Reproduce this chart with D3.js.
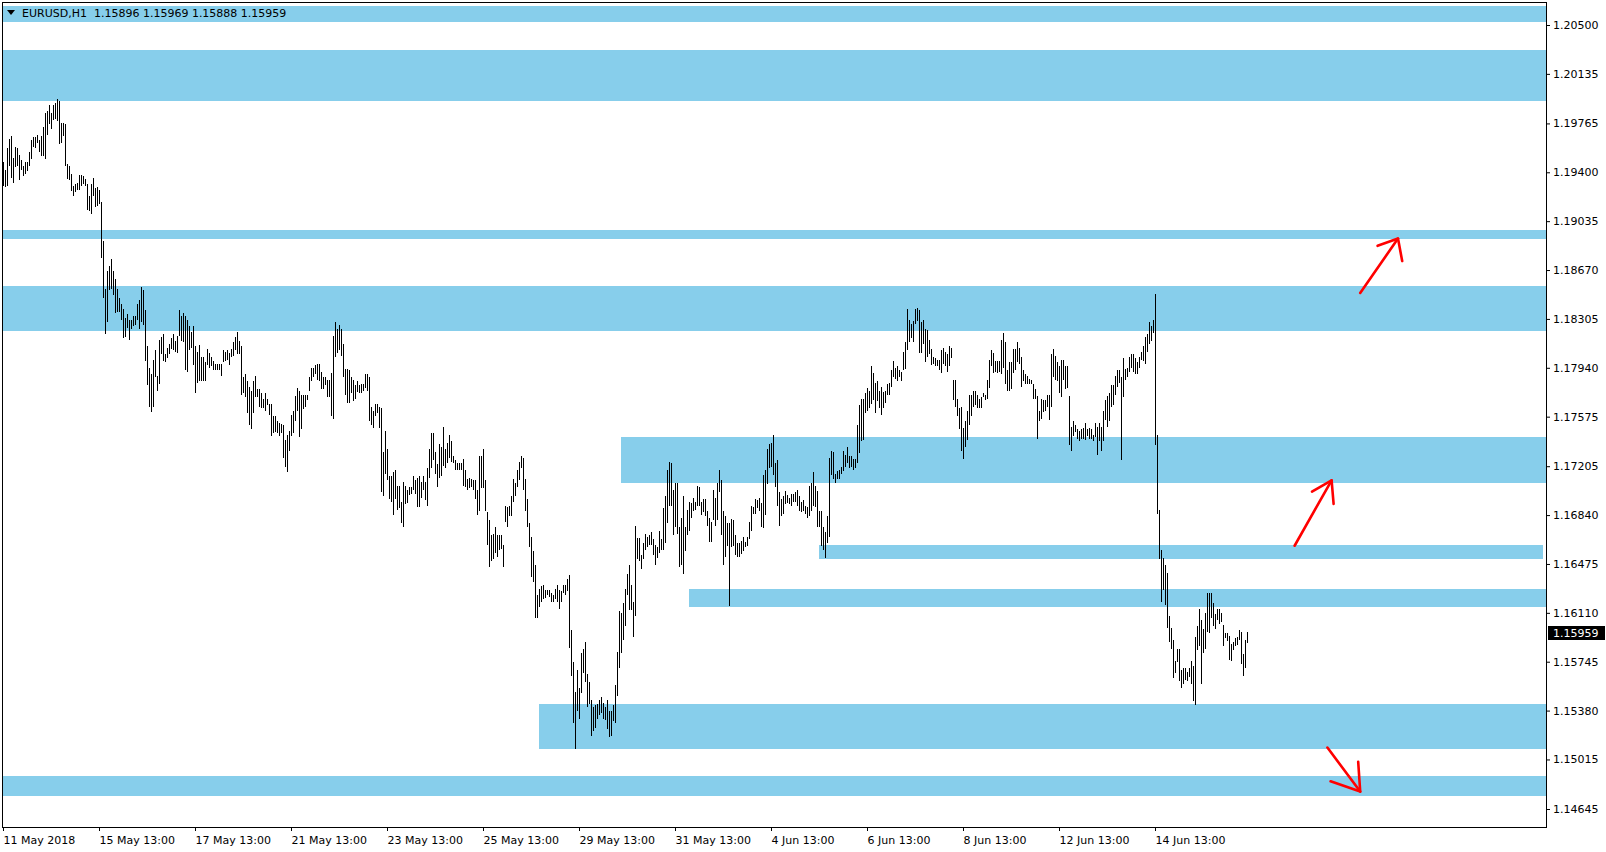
<!DOCTYPE html>
<html><head><meta charset="utf-8">
<script src="https://cdn.jsdelivr.net/npm/d3@7"></script>
<style>html,body{margin:0;padding:0;background:#fff;}svg{display:block;}</style>
</head><body>
<svg id="chart" width="1606" height="852"></svg>
<script>
const symbolName = "EURUSD,H1";
const lastBarOHLC = [1.15896, 1.15969, 1.15888, 1.15959];

// H1 bars (high / low), oldest first, starting 11 May 2018 13:00
const highs = [
1.1948,1.1942,1.1958,1.1965,1.1967,1.1951,1.1959,1.1958,1.1953,1.1949,1.1945,1.1948,1.1948,1.1955,1.1964,1.1966,1.1966,1.1968,1.1964,1.1967,1.1974,1.1984,1.1986,1.1990,
1.1984,1.1990,1.1992,1.1995,1.1993,1.1977,1.1977,1.1976,1.1946,1.1945,1.1939,1.1930,1.1931,1.1932,1.1938,1.1938,1.1937,1.1935,1.1931,1.1922,1.1931,1.1936,1.1928,1.1929,
1.1927,1.1918,1.1889,1.1853,1.1866,1.1870,1.1875,1.1866,1.1860,1.1853,1.1846,1.1842,1.1838,1.1831,1.1834,1.1830,1.1830,1.1833,1.1833,1.1842,1.1845,1.1854,1.1852,1.1837,
1.1810,1.1794,1.1789,1.1800,1.1807,1.1788,1.1815,1.1817,1.1819,1.1804,1.1809,1.1812,1.1816,1.1819,1.1814,1.1818,1.1837,1.1833,1.1835,1.1833,1.1830,1.1825,1.1821,1.1825,
1.1810,1.1806,1.1811,1.1802,1.1802,1.1798,1.1808,1.1805,1.1802,1.1799,1.1797,1.1797,1.1797,1.1797,1.1807,1.1806,1.1807,1.1805,1.1808,1.1813,1.1817,1.1821,1.1814,1.1810,
1.1787,1.1789,1.1784,1.1780,1.1777,1.1784,1.1788,1.1778,1.1778,1.1775,1.1771,1.1775,1.1771,1.1767,1.1767,1.1758,1.1758,1.1754,1.1753,1.1752,1.1751,1.1740,1.1744,1.1747,
1.1759,1.1762,1.1773,1.1779,1.1777,1.1774,1.1774,1.1774,1.1774,1.1787,1.1794,1.1794,1.1796,1.1797,1.1797,1.1791,1.1787,1.1787,1.1785,1.1785,1.1790,1.1818,1.1828,1.1823,
1.1826,1.1823,1.1812,1.1793,1.1793,1.1792,1.1787,1.1785,1.1781,1.1784,1.1781,1.1782,1.1782,1.1789,1.1789,1.1787,1.1765,1.1762,1.1767,1.1767,1.1765,1.1764,1.1731,1.1747,
1.1733,1.1713,1.1713,1.1716,1.1718,1.1706,1.1706,1.1694,1.1709,1.1706,1.1703,1.1705,1.1705,1.1713,1.1710,1.1712,1.1713,1.1709,1.1713,1.1709,1.1719,1.1733,1.1745,1.1745,
1.1731,1.1722,1.1737,1.1735,1.1750,1.1733,1.1738,1.1744,1.1739,1.1728,1.1725,1.1723,1.1723,1.1723,1.1726,1.1718,1.1711,1.1712,1.1711,1.1710,1.1710,1.1703,1.1728,1.1728,
1.1733,1.1710,1.1686,1.1680,1.1669,1.1670,1.1675,1.1669,1.1669,1.1669,1.1662,1.1691,1.1690,1.1691,1.1698,1.1711,1.1708,1.1718,1.1724,1.1728,1.1727,1.1711,1.1696,1.1678,
1.1668,1.1657,1.1647,1.1624,1.1629,1.1631,1.1632,1.1628,1.1628,1.1628,1.1626,1.1624,1.1629,1.1632,1.1628,1.1627,1.1632,1.1632,1.1636,1.1639,1.1598,1.1574,1.1552,1.1568,
1.1555,1.1581,1.1584,1.1589,1.1565,1.1559,1.1546,1.1541,1.1542,1.1543,1.1546,1.1548,1.1544,1.1541,1.1546,1.1538,1.1538,1.1542,1.1557,1.1582,1.1612,1.1611,1.1618,1.1629,
1.1640,1.1647,1.1632,1.1619,1.1676,1.1667,1.1667,1.1654,1.1663,1.1670,1.1668,1.1669,1.1671,1.1666,1.1662,1.1660,1.1672,1.1666,1.1689,1.1698,1.1718,1.1724,1.1723,1.1703,
1.1708,1.1708,1.1675,1.1682,1.1698,1.1675,1.1688,1.1694,1.1693,1.1697,1.1694,1.1706,1.1705,1.1694,1.1696,1.1696,1.1687,1.1682,1.1679,1.1703,1.1697,1.1708,1.1718,1.1710,
1.1687,1.1683,1.1678,1.1678,1.1681,1.1680,1.1669,1.1663,1.1663,1.1665,1.1668,1.1664,1.1668,1.1679,1.1691,1.1690,1.1696,1.1695,1.1697,1.1693,1.1714,1.1718,1.1733,1.1737,
1.1738,1.1744,1.1723,1.1725,1.1701,1.1696,1.1698,1.1702,1.1699,1.1697,1.1700,1.1700,1.1701,1.1703,1.1698,1.1694,1.1695,1.1691,1.1690,1.1706,1.1708,1.1716,1.1706,1.1702,
1.1687,1.1687,1.1675,1.1671,1.1683,1.1727,1.1732,1.1731,1.1715,1.1717,1.1718,1.1720,1.1732,1.1729,1.1735,1.1728,1.1728,1.1726,1.1726,1.1751,1.1766,1.1771,1.1771,1.1775,
1.1779,1.1777,1.1795,1.1790,1.1783,1.1784,1.1777,1.1780,1.1776,1.1777,1.1782,1.1783,1.1792,1.1799,1.1794,1.1795,1.1792,1.1791,1.1806,1.1813,1.1838,1.1830,1.1827,1.1829,
1.1838,1.1839,1.1837,1.1828,1.1830,1.1823,1.1822,1.1815,1.1808,1.1802,1.1801,1.1800,1.1800,1.1807,1.1809,1.1806,1.1804,1.1810,1.1809,1.1785,1.1785,1.1771,1.1764,1.1765,
1.1749,1.1754,1.1762,1.1774,1.1774,1.1777,1.1777,1.1774,1.1771,1.1772,1.1775,1.1774,1.1785,1.1800,1.1807,1.1805,1.1799,1.1799,1.1799,1.1815,1.1820,1.1813,1.1792,1.1798,
1.1798,1.1808,1.1808,1.1813,1.1809,1.1802,1.1792,1.1789,1.1788,1.1786,1.1785,1.1782,1.1778,1.1773,1.1762,1.1771,1.1770,1.1770,1.1774,1.1774,1.1804,1.1808,1.1803,1.1798,
1.1795,1.1800,1.1800,1.1795,1.1795,1.1773,1.1750,1.1754,1.1751,1.1748,1.1747,1.1748,1.1749,1.1753,1.1748,1.1749,1.1748,1.1744,1.1753,1.1750,1.1753,1.1750,1.1762,1.1770,
1.1773,1.1775,1.1781,1.1781,1.1788,1.1792,1.1792,1.1787,1.1801,1.1793,1.1794,1.1802,1.1804,1.1804,1.1801,1.1798,1.1802,1.1806,1.1810,1.1817,1.1819,1.1828,1.1825,1.1830,
1.1849,1.1744,1.1688,1.1658,1.1652,1.1647,1.1641,1.1609,1.1600,1.1591,1.1575,1.1584,1.1584,1.1568,1.1570,1.1570,1.1567,1.1570,1.1575,1.1571,1.1593,1.1601,1.1614,1.1606,
1.1599,1.1611,1.1626,1.1626,1.1626,1.1618,1.1610,1.1614,1.1614,1.1611,1.1602,1.1596,1.1596,1.1594,1.1588,1.1589,1.1592,1.1593,1.1598,1.1597,1.1580,1.1591,1.15969
];
const lows = [
1.1930,1.1929,1.1930,1.1945,1.1936,1.1932,1.1944,1.1945,1.1934,1.1942,1.1937,1.1939,1.1941,1.1945,1.1950,1.1959,1.1958,1.1962,1.1955,1.1952,1.1952,1.1950,1.1968,1.1976,
1.1972,1.1979,1.1980,1.1978,1.1961,1.1962,1.1967,1.1945,1.1935,1.1934,1.1926,1.1922,1.1925,1.1927,1.1927,1.1930,1.1931,1.1930,1.1912,1.1911,1.1909,1.1922,1.1914,1.1915,
1.1916,1.1876,1.1846,1.1819,1.1828,1.1852,1.1853,1.1848,1.1835,1.1836,1.1836,1.1830,1.1816,1.1817,1.1824,1.1815,1.1823,1.1825,1.1826,1.1830,1.1823,1.1828,1.1826,1.1799,
1.1781,1.1765,1.1761,1.1765,1.1787,1.1777,1.1782,1.1804,1.1799,1.1798,1.1801,1.1804,1.1808,1.1807,1.1806,1.1805,1.1818,1.1814,1.1813,1.1792,1.1791,1.1807,1.1809,1.1796,
1.1775,1.1783,1.1784,1.1784,1.1784,1.1784,1.1796,1.1794,1.1795,1.1792,1.1792,1.1792,1.1792,1.1788,1.1798,1.1799,1.1800,1.1796,1.1802,1.1803,1.1807,1.1804,1.1804,1.1774,
1.1775,1.1772,1.1760,1.1751,1.1748,1.1760,1.1772,1.1772,1.1765,1.1764,1.1764,1.1762,1.1766,1.1759,1.1743,1.1745,1.1746,1.1745,1.1743,1.1745,1.1727,1.1720,1.1716,1.1732,
1.1743,1.1745,1.1754,1.1762,1.1742,1.1748,1.1763,1.1765,1.1770,1.1777,1.1784,1.1787,1.1789,1.1785,1.1784,1.1778,1.1778,1.1781,1.1772,1.1772,1.1758,1.1756,1.1802,1.1805,
1.1807,1.1803,1.1787,1.1774,1.1768,1.1768,1.1775,1.1769,1.1771,1.1776,1.1775,1.1775,1.1777,1.1779,1.1777,1.1754,1.1751,1.1749,1.1758,1.1760,1.1749,1.1701,1.1698,1.1715,
1.1710,1.1696,1.1694,1.1684,1.1696,1.1688,1.1689,1.1678,1.1675,1.1692,1.1693,1.1699,1.1700,1.1703,1.1700,1.1690,1.1690,1.1697,1.1703,1.1695,1.1691,1.1712,1.1719,1.1725,
1.1715,1.1705,1.1712,1.1713,1.1721,1.1719,1.1723,1.1727,1.1724,1.1723,1.1718,1.1718,1.1718,1.1718,1.1706,1.1705,1.1703,1.1704,1.1705,1.1703,1.1696,1.1684,1.1687,1.1704,
1.1704,1.1687,1.1662,1.1645,1.1650,1.1651,1.1656,1.1653,1.1658,1.1659,1.1645,1.1679,1.1675,1.1683,1.1683,1.1694,1.1698,1.1705,1.1710,1.1719,1.1703,1.1687,1.1675,1.1660,
1.1638,1.1634,1.1607,1.1607,1.1615,1.1619,1.1621,1.1622,1.1624,1.1623,1.1619,1.1619,1.1621,1.1619,1.1614,1.1619,1.1626,1.1624,1.1627,1.1585,1.1564,1.1529,1.1509,1.1538,
1.1532,1.1551,1.1566,1.1559,1.1541,1.1543,1.1519,1.1523,1.1525,1.1532,1.1535,1.1536,1.1532,1.1531,1.1524,1.1518,1.1519,1.1530,1.1529,1.1549,1.1570,1.1581,1.1591,1.1601,
1.1624,1.1613,1.1613,1.1593,1.1609,1.1651,1.1650,1.1644,1.1651,1.1658,1.1660,1.1662,1.1662,1.1654,1.1647,1.1652,1.1656,1.1658,1.1658,1.1663,1.1678,1.1691,1.1691,1.1669,
1.1675,1.1670,1.1645,1.1647,1.1640,1.1657,1.1669,1.1672,1.1682,1.1687,1.1688,1.1691,1.1691,1.1684,1.1686,1.1683,1.1676,1.1664,1.1664,1.1680,1.1676,1.1680,1.1701,1.1669,
1.1647,1.1653,1.1661,1.1616,1.1660,1.1661,1.1654,1.1653,1.1653,1.1655,1.1657,1.1660,1.1661,1.1666,1.1672,1.1685,1.1685,1.1689,1.1687,1.1675,1.1674,1.1684,1.1707,1.1719,
1.1720,1.1714,1.1705,1.1691,1.1676,1.1683,1.1685,1.1692,1.1693,1.1692,1.1691,1.1694,1.1694,1.1691,1.1687,1.1686,1.1687,1.1685,1.1682,1.1683,1.1687,1.1691,1.1690,1.1675,
1.1675,1.1661,1.1658,1.1652,1.1663,1.1668,1.1714,1.1711,1.1708,1.1711,1.1711,1.1715,1.1717,1.1720,1.1723,1.1719,1.1720,1.1718,1.1719,1.1723,1.1730,1.1739,1.1740,1.1760,
1.1762,1.1764,1.1767,1.1770,1.1760,1.1769,1.1764,1.1759,1.1764,1.1768,1.1774,1.1774,1.1780,1.1787,1.1786,1.1784,1.1787,1.1784,1.1792,1.1793,1.1807,1.1813,1.1816,1.1813,
1.1827,1.1829,1.1805,1.1805,1.1812,1.1798,1.1802,1.1804,1.1796,1.1797,1.1795,1.1795,1.1792,1.1790,1.1797,1.1795,1.1791,1.1795,1.1801,1.1770,1.1765,1.1758,1.1748,1.1732,
1.1726,1.1735,1.1740,1.1751,1.1758,1.1765,1.1766,1.1764,1.1764,1.1764,1.1772,1.1770,1.1771,1.1779,1.1795,1.1790,1.1791,1.1790,1.1791,1.1789,1.1794,1.1782,1.1777,1.1777,
1.1778,1.1790,1.1792,1.1798,1.1797,1.1780,1.1784,1.1782,1.1782,1.1782,1.1782,1.1771,1.1771,1.1741,1.1754,1.1756,1.1761,1.1762,1.1765,1.1755,1.1765,1.1787,1.1785,1.1784,
1.1775,1.1772,1.1785,1.1778,1.1779,1.1736,1.1732,1.1743,1.1746,1.1741,1.1739,1.1741,1.1741,1.1740,1.1743,1.1741,1.1741,1.1739,1.1742,1.1729,1.1739,1.1732,1.1739,1.1755,
1.1750,1.1754,1.1765,1.1766,1.1774,1.1780,1.1783,1.1725,1.1772,1.1785,1.1787,1.1791,1.1794,1.1791,1.1789,1.1789,1.1794,1.1800,1.1799,1.1797,1.1806,1.1812,1.1814,1.1820,
1.1736,1.1685,1.1651,1.1619,1.1628,1.1617,1.1600,1.1589,1.1584,1.1562,1.1566,1.1574,1.1560,1.1555,1.1558,1.1561,1.1560,1.1563,1.1558,1.1545,1.1542,1.1583,1.1586,1.1558,
1.1581,1.1584,1.1597,1.1596,1.1607,1.1601,1.1599,1.1606,1.1603,1.1604,1.1586,1.1592,1.1590,1.1576,1.1575,1.1583,1.1586,1.1587,1.1591,1.1573,1.1564,1.1570,1.15888
];

const priceTicks = [1.20500,1.20135,1.19765,1.19400,1.19035,1.18670,1.18305,1.17940,1.17575,1.17205,1.16840,1.16475,1.16110,1.15745,1.15380,1.15015,1.14645];
const timeLabels = ["11 May 2018","15 May 13:00","17 May 13:00","21 May 13:00","23 May 13:00","25 May 13:00","29 May 13:00","31 May 13:00","4 Jun 13:00","6 Jun 13:00","8 Jun 13:00","12 Jun 13:00","14 Jun 13:00"];
const timeLabelBars = [0,48,96,144,192,240,288,336,384,432,480,528,576];

// support / resistance zones (price range, bar where the rectangle starts/ends; null = chart edge)
const zoneHigh = [1.20642,1.20313,1.18969,1.18551,1.17423,1.16617,1.16288,1.15429,1.14891];
const zoneLow  = [1.20522,1.19935,1.18902,1.18215,1.17082,1.16514,1.16156,1.15095,1.14744];
const zoneFromBar = [null,null,null,null,309,408,343,268,null];
const zoneToBar   = [null,null,null,null,null,770,null,null,null];

// hand-drawn red arrows: [bar, price] for tail, head and the two head wings
const arrowTail  = [[678.6,1.18499],[645.8,1.16611],[662.2,1.15104]];
const arrowHead  = [[697.5,1.18905],[664.3,1.17100],[678.6,1.14775]];
const arrowWingA = [[687.3,1.18851],[654.5,1.17016],[663.8,1.14852]];
const arrowWingB = [[699.6,1.18737],[665.3,1.16924],[677.6,1.14997]];

const FONT = "'DejaVu Sans', Verdana, sans-serif";
const plot = {left: 2, top: 2, right: 1546, bottom: 827};
const svg = d3.select("#chart");

const x = d3.scaleLinear().domain([0, 1]).range([3, 5]);           // one bar every 2 px
const y = d3.scaleLinear().domain([1.14645, 1.20500]).range([809, 25]);

svg.append("defs").append("clipPath").attr("id", "plotClip")
  .append("rect").attr("x", plot.left).attr("y", plot.top)
  .attr("width", plot.right - plot.left).attr("height", plot.bottom - plot.top);

const g = svg.append("g").attr("clip-path", "url(#plotClip)");

// zones
const zones = zoneHigh.map((h, i) => ({h, l: zoneLow[i], from: zoneFromBar[i], to: zoneToBar[i]}));
g.selectAll("rect.zone").data(zones).join("rect")
  .attr("class", "zone")
  .attr("x", d => d.from === null ? plot.left : Math.round(x(d.from)))
  .attr("width", d => (d.to === null ? plot.right : Math.round(x(d.to))) - (d.from === null ? plot.left : Math.round(x(d.from))))
  .attr("y", d => Math.round(y(d.h)))
  .attr("height", d => Math.round(y(d.l)) - Math.round(y(d.h)))
  .attr("fill", "#87CEEB")
  .attr("shape-rendering", "crispEdges");

// bars
const bars = d3.range(highs.length).map(i => ({i, h: highs[i], l: lows[i]}));
g.selectAll("rect.bar").data(bars).join("rect")
  .attr("class", "bar")
  .attr("x", d => Math.round(x(d.i)))
  .attr("width", 1)
  .attr("y", d => Math.round(y(d.h)))
  .attr("height", d => Math.max(1, Math.round(y(d.l)) - Math.round(y(d.h))))
  .attr("fill", "#000")
  .attr("shape-rendering", "crispEdges");

// arrows
const arrows = arrowTail.map((t, k) => ({t, h: arrowHead[k], a: arrowWingA[k], b: arrowWingB[k]}));
const pt = p => [x(p[0]), y(p[1])];
const line = d3.line();
const ag = g.append("g").attr("fill", "none").attr("stroke", "#ff0000")
  .attr("stroke-width", 2.6).attr("stroke-linecap", "round").attr("stroke-linejoin", "round");
ag.selectAll("path.shaft").data(arrows).join("path").attr("class", "shaft")
  .attr("d", d => line([pt(d.t), pt(d.h)]));
ag.selectAll("path.head").data(arrows).join("path").attr("class", "head")
  .attr("d", d => line([pt(d.a), pt(d.h), pt(d.b)]));

// header
svg.append("path").attr("d", d3.line()([[7, 10], [15, 10], [11, 15]]) + "Z").attr("fill", "#000");
svg.append("text").attr("x", 22).attr("y", 17)
  .attr("font-family", FONT).attr("font-size", 11).attr("fill", "#000")
  .text(symbolName + "\u00a0\u00a0" + lastBarOHLC.map(v => v.toFixed(5)).join(" "));

// frame
svg.append("rect").attr("x", plot.left + 0.5).attr("y", plot.top + 0.5)
  .attr("width", plot.right - plot.left).attr("height", plot.bottom - plot.top)
  .attr("fill", "none").attr("stroke", "#000").attr("stroke-width", 1);

// price axis
const yAxis = svg.append("g").attr("transform", `translate(${plot.right},0)`)
  .call(d3.axisRight(y).tickValues(priceTicks).tickFormat(d3.format(".5f")).tickSize(4).tickSizeOuter(0));
yAxis.select(".domain").remove();
yAxis.selectAll("line").attr("stroke", "#000");
yAxis.selectAll("text").attr("x", 7).attr("font-family", FONT).attr("font-size", 11).attr("fill", "#000");

// time axis
const xAxis = svg.append("g").attr("transform", `translate(0,${plot.bottom})`)
  .call(d3.axisBottom(x).tickValues(timeLabelBars).tickFormat((d, i) => timeLabels[i]).tickSize(4).tickSizeOuter(0));
xAxis.select(".domain").remove();
xAxis.selectAll("line").attr("stroke", "#000");
xAxis.selectAll("text").attr("text-anchor", "start").attr("y", 9)
  .attr("font-family", FONT).attr("font-size", 11).attr("fill", "#000");

// last price marker
const lastClose = lastBarOHLC[3];
svg.append("rect").attr("x", 1548).attr("y", Math.round(y(lastClose)) - 7)
  .attr("width", 57).attr("height", 14).attr("fill", "#000");
svg.append("text").attr("x", 1553).attr("y", y(lastClose)).attr("dy", "0.36em")
  .attr("font-family", FONT).attr("font-size", 11).attr("fill", "#fff")
  .text(lastClose.toFixed(5));
</script>
</body></html>
